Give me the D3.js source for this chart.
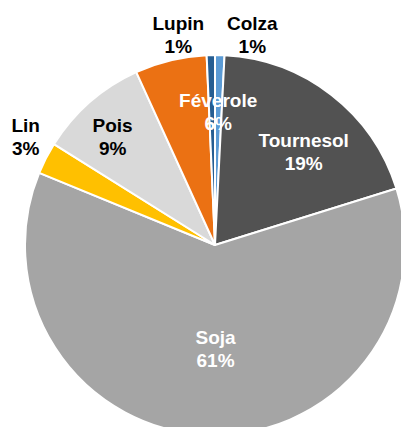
<!DOCTYPE html>
<html>
<head>
<meta charset="utf-8">
<script src="https://cdn.jsdelivr.net/npm/d3@7"></script>
<style>
  html, body { margin: 0; padding: 0; background: #fff; }
  svg { display: block; }
</style>
</head>
<body>
<svg id="chart"></svg>
<script>
// values in %, clockwise from 12 o'clock
var categories = ["Colza", "Tournesol", "Soja", "Lin", "Pois", "Féverole", "Lupin"]
var values = [0.8, 19.4, 61.0, 2.7, 9.3, 6.1, 0.7]
var colors = ["#5B9BD5", "#525252", "#A5A5A5", "#FFC000", "#D9D9D9", "#EB7113", "#265E92"]

// label layout: outside or not, text colour, nudge from the computed anchor
var labelOutside = [true, false, false, true, false, false, true]
var labelColors = ["#000", "#fff", "#fff", "#000", "#000", "#fff", "#000"]
var labelNudge = [[32, 3], [13, 5], [6, -19], [0, -11], [-21, -15], [32, -13], [-32, 3]]

var width = 401
var height = 427
var cx = 215, cy = 245, radius = 190

var data = categories.map((c, i) => ({name: c, value: values[i], color: colors[i],
	outside: labelOutside[i], textColor: labelColors[i], nudge: labelNudge[i]}))

var svg = d3.select("#chart")
	.attr("width", width)
	.attr("height", height)
	.attr("viewBox", [0, 0, width, height])

var pie = d3.pie()
	.sort(null)
	.value(d => d.value)

var arc = d3.arc()
	.innerRadius(0)
	.outerRadius(radius)

var arcsIn = d3.arc().innerRadius(radius * 0.65).outerRadius(radius * 0.65)
var arcsOut = d3.arc().innerRadius(radius * 1.12).outerRadius(radius * 1.12)

var g = svg.append("g")
	.attr("transform", `translate(${cx},${cy})`)

var arcs = pie(data)

g.selectAll("path")
	.data(arcs)
	.join("path")
	.attr("d", arc)
	.attr("fill", d => d.data.color)
	.attr("stroke", "#fff")
	.attr("stroke-width", 2)
	.attr("stroke-linejoin", "round")

var labels = g.selectAll("text")
	.data(arcs)
	.join("text")
	.attr("transform", d => {
		var p = (d.data.outside ? arcsOut : arcsIn).centroid(d)
		return `translate(${p[0] + d.data.nudge[0]},${p[1] + d.data.nudge[1]})`
	})
	.attr("text-anchor", "middle")
	.style("font-family", "'Liberation Sans', Arial, sans-serif")
	.style("font-weight", "bold")
	.style("font-size", "19px")
	.style("fill", d => d.data.textColor)

labels.append("tspan")
	.attr("x", 0)
	.attr("y", -5)
	.text(d => d.data.name)

labels.append("tspan")
	.attr("x", 0)
	.attr("y", 18)
	.text(d => Math.round(d.data.value) + "%")
</script>
</body>
</html>
